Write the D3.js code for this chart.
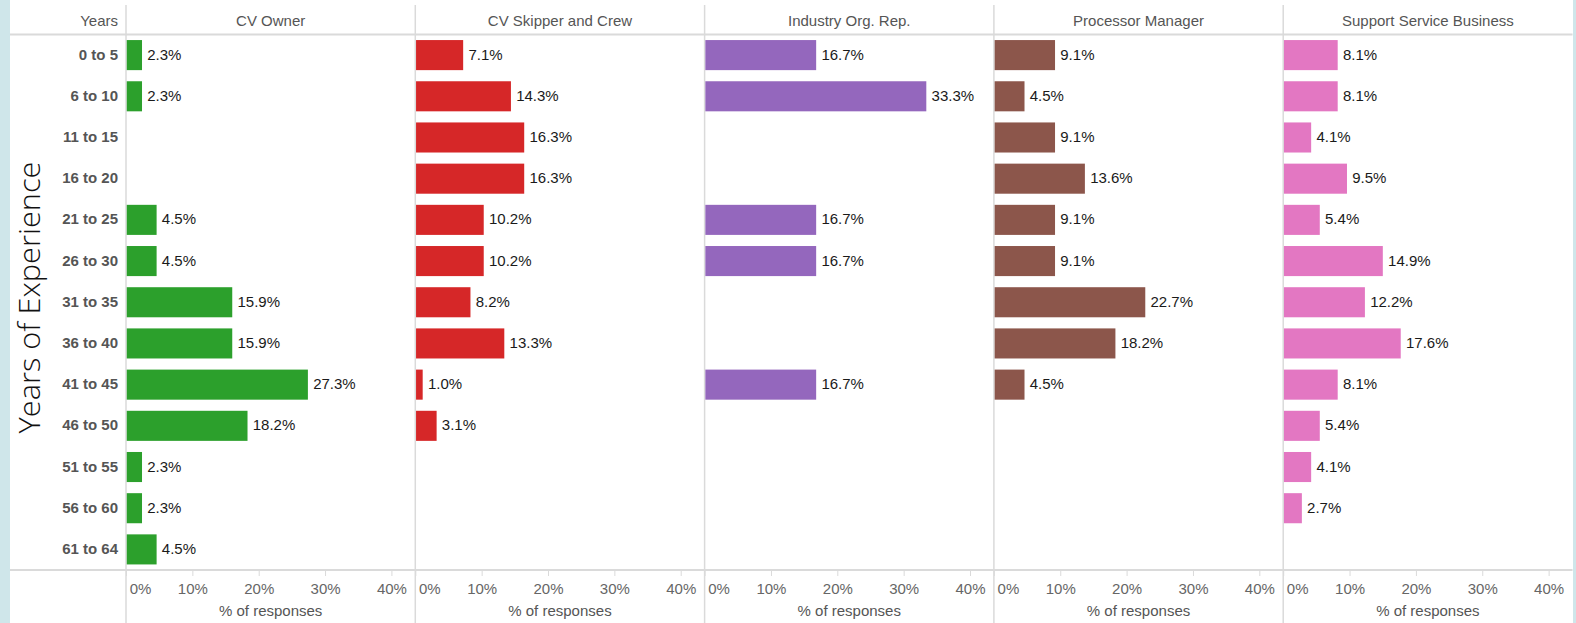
<!DOCTYPE html>
<html>
<head>
<meta charset="utf-8">
<script src="https://cdn.jsdelivr.net/npm/d3@7"></script>
<style>
  body { margin: 0; background: #fff; }
  text { font-family: Arial, "Liberation Sans", sans-serif; }
</style>
</head>
<body>
<svg id="chart"></svg>
<script>
// years of experience buckets (rows)
var years = ["0 to 5", "6 to 10", "11 to 15", "16 to 20", "21 to 25", "26 to 30",
  "31 to 35", "36 to 40", "41 to 45", "46 to 50", "51 to 55", "56 to 60", "61 to 64"];

var groups = ["CV Owner", "CV Skipper and Crew", "Industry Org. Rep.",
  "Processor Manager", "Support Service Business"];

var colors = ["#2ca02c", "#d62728", "#9467bd", "#8c564b", "#e377c2"];

// % of responses, null = no bar
var cvOwner = [2.3, 2.3, null, null, 4.5, 4.5, 15.9, 15.9, 27.3, 18.2, 2.3, 2.3, 4.5];
var cvSkipper = [7.1, 14.3, 16.3, 16.3, 10.2, 10.2, 8.2, 13.3, 1.0, 3.1, null, null, null];
var industryRep = [16.7, 33.3, null, null, 16.7, 16.7, null, null, 16.7, null, null, null, null];
var processorMgr = [9.1, 4.5, 9.1, 13.6, 9.1, 9.1, 22.7, 18.2, 4.5, null, null, null, null];
var supportBiz = [8.1, 8.1, 4.1, 9.5, 5.4, 14.9, 12.2, 17.6, 8.1, 5.4, 4.1, 2.7, null];

var tickVals = [0, 10, 20, 30, 40];

var series = [cvOwner, cvSkipper, industryRep, processorMgr, supportBiz];

var width = 1576, height = 623;
var leftX = 126, rightX = 1572.5;
var topY = 34.5, axisY = 570;
var panelW = (rightX - leftX) / groups.length;
var lineColor = "#dadada";

var svg = d3.select("#chart").attr("width", width).attr("height", height);

// blue edge strips
svg.append("rect").attr("x", 0).attr("y", 0).attr("width", 10).attr("height", height).attr("fill", "#cfe6ea");
svg.append("rect").attr("x", 1573).attr("y", 0).attr("width", 3).attr("height", height).attr("fill", "#cfe6ea");

var y = d3.scaleBand().domain(years).range([topY, axisY]).paddingInner(0.27).paddingOuter(0.135);

var x = d3.scaleLinear().domain([0, 43.6]).range([0, panelW]);

// horizontal lines (header + axis)
svg.append("line").attr("x1", 10).attr("x2", rightX).attr("y1", topY).attr("y2", topY)
  .attr("stroke", lineColor).attr("stroke-width", 2);
svg.append("line").attr("x1", 10).attr("x2", rightX).attr("y1", axisY).attr("y2", axisY)
  .attr("stroke", lineColor).attr("stroke-width", 2);

// row labels
svg.append("g").selectAll("text")
  .data(years)
  .enter()
  .append("text")
  .attr("x", 118)
  .attr("y", d => y(d) + y.bandwidth() / 2)
  .attr("dy", "0.3em")
  .attr("text-anchor", "end")
  .attr("font-size", 15)
  .attr("font-weight", "bold")
  .attr("fill", "#555")
  .text(d => d);

svg.append("text")
  .attr("x", 118).attr("y", 26)
  .attr("text-anchor", "end")
  .attr("font-size", 15)
  .attr("fill", "#555")
  .text("Years");

svg.append("text")
  .attr("transform", "translate(40,297.5) rotate(-90)")
  .attr("text-anchor", "middle")
  .attr("font-size", 30)
  .attr("font-weight", 300)
  .attr("fill", "#111")
  .attr("textLength", 272)
  .attr("lengthAdjust", "spacingAndGlyphs")
  .style("font-family", "'Open Sans', Lato, sans-serif")
  .text("Years of Experience");

groups.forEach(function (name, gi) {
  var px = leftX + gi * panelW;
  var g = svg.append("g").attr("transform", "translate(" + px + ",0)");
  var vals = series[gi];

  // panel divider
  g.append("line").attr("x1", 0).attr("x2", 0).attr("y1", 5).attr("y2", height)
    .attr("stroke", lineColor).attr("stroke-width", 1.5);

  g.append("text")
    .attr("x", panelW / 2).attr("y", 26)
    .attr("text-anchor", "middle")
    .attr("font-size", 15)
    .attr("fill", "#555")
    .text(name);

  var rows = years.map((yr, i) => ({ yr: yr, v: vals[i] })).filter(d => d.v != null);

  g.selectAll("rect.bar")
    .data(rows)
    .enter()
    .append("rect")
    .attr("class", "bar")
    .attr("x", x(0) + 0.75)
    .attr("y", d => y(d.yr))
    .attr("width", d => x(d.v))
    .attr("height", y.bandwidth())
    .attr("fill", colors[gi]);

  g.selectAll("text.val")
    .data(rows)
    .enter()
    .append("text")
    .attr("class", "val")
    .attr("x", d => x(d.v) + 6)
    .attr("y", d => y(d.yr) + y.bandwidth() / 2)
    .attr("dy", "0.3em")
    .attr("font-size", 15)
    .attr("fill", "#1a1a1a")
    .text(d => d.v.toFixed(1) + "%");

  // bottom axis
  var axis = d3.axisBottom(x).tickValues(tickVals).tickFormat(d => d + "%").tickSize(6).tickPadding(7);
  var ax = g.append("g").attr("transform", "translate(0," + axisY + ")").call(axis);
  ax.select(".domain").remove();
  ax.selectAll(".tick line").attr("stroke", lineColor);
  ax.selectAll(".tick text")
    .attr("font-size", 15)
    .attr("fill", "#666")
    .style("font-family", "Arial, 'Liberation Sans', sans-serif")
    .attr("dx", d => d === 0 ? 14 : 0);

  g.append("text")
    .attr("x", panelW / 2).attr("y", 616)
    .attr("text-anchor", "middle")
    .attr("font-size", 15)
    .attr("fill", "#555")
    .text("% of responses");
});
</script>
</body>
</html>
